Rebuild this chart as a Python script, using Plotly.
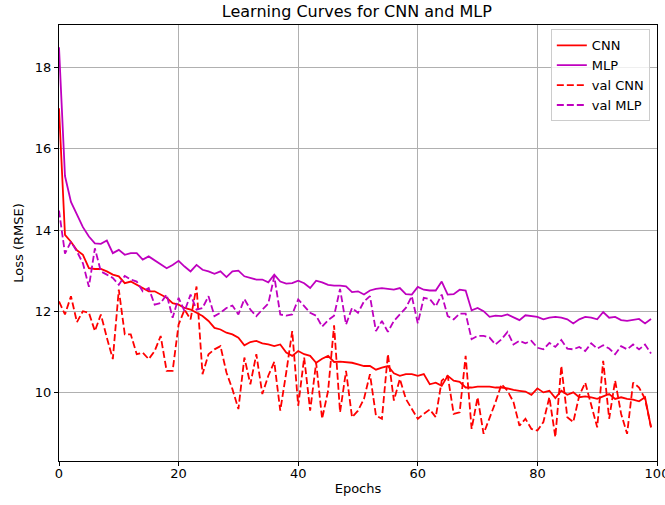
import plotly.graph_objects as go

epochs = list(range(100))

cnn = [17.0, 13.88, 13.71, 13.5, 13.39, 13.06, 13.04, 13.04, 12.98, 12.9,
       12.86, 12.69, 12.73, 12.65, 12.57, 12.49, 12.49, 12.41, 12.33, 12.2,
       12.16, 12.08, 12.04, 11.96, 11.88, 11.76, 11.59, 11.55, 11.47, 11.43,
       11.35, 11.16, 11.24, 11.27, 11.21, 11.18, 11.14, 11.18, 10.98, 10.9,
       11.02, 10.94, 10.9, 10.73, 10.83, 10.9, 10.75, 10.76, 10.75, 10.73,
       10.69, 10.65, 10.65, 10.56, 10.61, 10.65, 10.47, 10.41, 10.45, 10.45,
       10.41, 10.45, 10.2, 10.24, 10.16, 10.41, 10.29, 10.26, 10.12, 10.12,
       10.14, 10.14, 10.14, 10.12, 10.12, 10.1, 10.06, 10.04, 10.02, 9.94,
       10.1, 10.0, 10.04, 9.86, 10.04, 9.94, 10.0, 9.88, 9.9, 9.88,
       9.84, 9.9, 9.96, 9.84, 9.88, 9.84, 9.82, 9.78, 9.88, 9.14]

mlp = [18.5, 15.33, 14.69, 14.4, 14.07, 13.84, 13.67, 13.66, 13.74, 13.43,
       13.51, 13.39, 13.43, 13.43, 13.27, 13.35, 13.25, 13.14, 13.06, 13.14,
       13.24, 13.1, 12.98, 13.14, 13.02, 12.98, 12.92, 12.98, 12.84, 12.98,
       13.0, 12.86, 12.82, 12.78, 12.78, 12.71, 12.9, 12.73, 12.68, 12.69,
       12.75, 12.69, 12.57, 12.75, 12.71, 12.65, 12.63, 12.63, 12.61, 12.47,
       12.49, 12.41, 12.51, 12.55, 12.57, 12.55, 12.53, 12.57, 12.42, 12.41,
       12.6, 12.53, 12.51, 12.51, 12.73, 12.41, 12.42, 12.53, 12.51, 12.02,
       12.08, 12.0, 11.86, 11.89, 11.88, 11.92, 11.85, 11.78, 11.9, 11.88,
       11.86, 11.8, 11.84, 11.86, 11.84, 11.8, 11.7, 11.8, 11.86, 11.84,
       11.8, 11.98, 11.84, 11.86, 11.78, 11.76, 11.78, 11.81, 11.7, 11.81]

val_cnn = [12.24, 11.92, 12.37, 11.73, 12.0, 11.96, 11.51, 11.92, 11.35, 10.82,
           12.53, 11.43, 11.43, 10.94, 10.98, 10.82, 11.02, 11.39, 10.53, 10.53,
           11.67, 12.04, 11.8, 12.61, 10.45, 10.94, 11.06, 11.14, 10.49, 10.08,
           9.59, 10.86, 10.2, 10.94, 9.96, 10.41, 10.75, 9.55, 10.49, 11.51,
           9.67, 10.86, 9.55, 10.73, 9.35, 10.04, 11.65, 9.51, 10.53, 9.39,
           9.55, 9.84, 10.45, 9.43, 9.35, 10.94, 9.8, 10.33, 9.84, 9.59,
           9.35, 9.47, 9.58, 9.39, 10.29, 10.41, 9.47, 9.51, 10.9, 9.1,
           9.88, 8.98, 9.35, 9.76, 10.2, 10.04, 9.76, 9.18, 9.35, 9.1,
           9.06, 9.27, 9.88, 8.9, 10.65, 9.39, 9.27, 9.92, 10.24, 9.67,
           9.14, 10.78, 9.35, 10.29, 9.47, 8.98, 10.24, 10.12, 9.84, 9.14]

val_mlp = [14.48, 13.42, 13.71, 13.47, 13.18, 12.6, 13.55, 12.98, 12.9, 12.82,
           12.65, 12.87, 12.78, 12.73, 12.49, 12.57, 12.16, 12.2, 12.41, 11.84,
           12.33, 12.0, 12.41, 12.04, 12.08, 12.37, 11.88, 11.96, 12.08, 12.14,
           11.92, 12.3, 12.04, 11.88, 12.04, 12.19, 12.86, 11.92, 11.89, 11.92,
           12.29, 12.12, 11.96, 11.89, 11.62, 11.78, 11.89, 12.55, 11.67, 12.08,
           11.96, 12.24, 12.37, 11.51, 11.76, 11.49, 11.76, 11.92, 12.08, 12.37,
           11.7, 12.33, 12.3, 12.12, 12.41, 11.88, 11.8, 11.94, 11.94, 11.31,
           11.39, 11.39, 11.35, 11.18, 11.31, 11.49, 11.18, 11.27, 11.21, 11.27,
           11.1, 11.06, 11.22, 11.12, 11.29, 11.08, 11.06, 11.12, 11.02, 11.21,
           11.08, 11.16, 11.08, 10.94, 11.14, 11.06, 11.18, 11.06, 11.18, 10.96]

x_ticks = [0, 20, 40, 60, 80, 100]
y_ticks = [10, 12, 14, 16, 18]

RED = "#ff0000"
MAG = "#bf00bf"
FONT = "DejaVu Sans"
FS = 13
LW = 1.8
DASH = "7px,3px"

fig = go.Figure()
fig.add_trace(go.Scatter(x=epochs, y=cnn, mode="lines", name="CNN",
                         line=dict(color=RED, width=LW)))
fig.add_trace(go.Scatter(x=epochs, y=mlp, mode="lines", name="MLP",
                         line=dict(color=MAG, width=LW)))
fig.add_trace(go.Scatter(x=epochs, y=val_cnn, mode="lines", name="val CNN",
                         line=dict(color=RED, width=LW, dash=DASH)))
fig.add_trace(go.Scatter(x=epochs, y=val_mlp, mode="lines", name="val MLP",
                         line=dict(color=MAG, width=LW, dash=DASH)))

axis_common = dict(
    showgrid=True, gridcolor="#b0b0b0", gridwidth=1,
    showline=True, linecolor="black", linewidth=1, mirror=True,
    ticks="outside", ticklen=4, tickcolor="black", tickwidth=1,
    zeroline=False, automargin=False, ticklabeloverflow="allow",
    tickfont=dict(family=FONT, size=FS, color="black"),
)

fig.update_layout(
    width=665, height=505,
    margin=dict(l=59, r=8, t=25, b=44),
    paper_bgcolor="white", plot_bgcolor="white",
    font=dict(family=FONT, size=FS, color="black"),
    hovermode=False,
    title=dict(text="Learning Curves for CNN and MLP", x=0.5366, xanchor="center",
               y=0.978, yanchor="middle",
               font=dict(family=FONT, size=16, color="black")),
    xaxis=dict(range=[0, 100], tickvals=x_ticks, ticktext=[str(v) for v in x_ticks],
               title=dict(text="Epochs", font=dict(family=FONT, size=FS), standoff=4),
               **axis_common),
    yaxis=dict(range=[8.31, 19.05], tickvals=y_ticks, ticktext=[str(v) for v in y_ticks],
               title=dict(text="Loss (RMSE)", font=dict(family=FONT, size=FS), standoff=8),
               **axis_common),
    legend=dict(x=0.988, y=0.99, xanchor="right", yanchor="top",
                bgcolor="rgba(255,255,255,0.8)", bordercolor="#cccccc", borderwidth=1,
                font=dict(family=FONT, size=FS, color="black"),
                itemwidth=30, tracegroupgap=0),
    showlegend=True,
)

try:
    fig.update_xaxes(ticklabelstandoff=-4)
except ValueError:
    pass

fig.write_html("out.html",
               config={"displayModeBar": False, "staticPlot": True},
               post_script="document.body.style.margin='0';document.body.style.padding='0';")
